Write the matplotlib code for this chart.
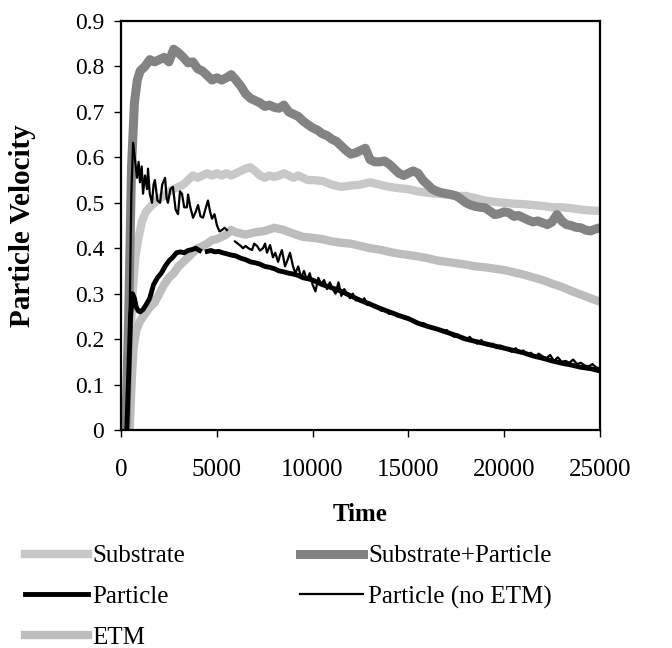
import numpy as np
import matplotlib
matplotlib.use("Agg")
import matplotlib.pyplot as plt

nan = np.nan

# ---------------- data ----------------
t_sub = [300, 450, 600, 750, 900, 1100, 1300, 1500, 1750, 2000, 2250, 2500, 2750, 3000, 3250, 3500,
         3750, 4000, 4250, 4500, 4750, 5000, 5250, 5500, 5750, 6000, 6250, 6500, 6750, 7000, 7250,
         7500, 7750, 8000, 8250, 8500, 8750, 9000, 9250, 9500, 9750, 10000, 10500, 11000, 11500,
         12000, 12500, 13000, 13500, 14000, 14500, 15000, 15500, 16000, 16500, 17000, 17500, 18000,
         18500, 19000, 19500, 20000, 20500, 21000, 21500, 22000, 22500, 23000, 23500, 24000, 24500, 25000]
v_sub = [0.0, 0.15, 0.30, 0.38, 0.42, 0.46, 0.48, 0.49, 0.50, 0.51, 0.515, 0.525, 0.53, 0.535, 0.54, 0.55,
         0.56, 0.555, 0.56, 0.565, 0.56, 0.565, 0.56, 0.565, 0.56, 0.565, 0.57, 0.575, 0.578, 0.57, 0.56,
         0.555, 0.56, 0.557, 0.56, 0.565, 0.56, 0.555, 0.56, 0.555, 0.55, 0.55, 0.548, 0.54, 0.535,
         0.538, 0.54, 0.545, 0.54, 0.535, 0.532, 0.53, 0.525, 0.522, 0.52, 0.518, 0.515, 0.515,
         0.51, 0.505, 0.502, 0.50, 0.498, 0.497, 0.495, 0.493, 0.49, 0.49, 0.488, 0.485, 0.483, 0.482]

t_sp = [250, 400, 550, 700, 850, 1000, 1250, 1500, 1750, 2000, 2250, 2500, 2750, 3000, 3250, 3500,
        3750, 4000, 4250, 4500, 4750, 5000, 5250, 5500, 5750, 6000, 6250, 6500, 6750, 7000, 7250,
        7500, 7750, 8000, 8250, 8500, 8750, 9000, 9250, 9500, 9750, 10000, 10250, 10500, 10750,
        11000, 11250, 11500, 11750, 12000, 12250, 12500, 12750, 13000, 13250, 13500, 13750, 14000,
        14250, 14500, 14750, 15000, 15250, 15500, 15750, 16000, 16250, 16500, 16750, 17000, 17250,
        17500, 17750, 18000, 18250, 18500, 18750, 19000, 19250, 19500, 19750, 20000, 20250, 20500,
        20750, 21000, 21250, 21500, 21750, 22000, 22250, 22500, 22750, 23000, 23250, 23500, 23750,
        24000, 24250, 24500, 24750, 25000]
v_sp = [0.0, 0.25, 0.58, 0.72, 0.77, 0.79, 0.80, 0.815, 0.81, 0.815, 0.82, 0.81, 0.838, 0.83, 0.82, 0.808,
        0.81, 0.795, 0.79, 0.78, 0.77, 0.775, 0.77, 0.775, 0.782, 0.77, 0.757, 0.74, 0.73, 0.725, 0.72,
        0.712, 0.715, 0.71, 0.708, 0.715, 0.70, 0.695, 0.69, 0.68, 0.672, 0.665, 0.66, 0.652, 0.648,
        0.64, 0.635, 0.625, 0.615, 0.607, 0.61, 0.615, 0.62, 0.595, 0.59, 0.59, 0.592, 0.585,
        0.575, 0.565, 0.56, 0.565, 0.57, 0.565, 0.55, 0.54, 0.53, 0.525, 0.522, 0.52, 0.518,
        0.515, 0.508, 0.50, 0.495, 0.492, 0.49, 0.489, 0.482, 0.474, 0.476, 0.48, 0.478, 0.47,
        0.472, 0.467, 0.462, 0.458, 0.46, 0.456, 0.452, 0.458, 0.474, 0.46, 0.452, 0.45, 0.446,
        0.445, 0.44, 0.438, 0.442, 0.445]

t_par = [300, 400, 500, 600, 700, 800, 900, 1000, 1150, 1300, 1500, 1700, 1900, 2100, 2300, 2500,
         2700, 2900, 3100, 3300, 3500, 3700, 3900, 4100, 4300, 4500, 4700, 4900, 5100, 5300, 5500,
         5750, 6000, 6250, 6500, 6750, 7000, 7250, 7500, 7750, 8000, 8250, 8500, 8750, 9000, 9250,
         9500, 9750, 10000, 10500, 11000, 11500, 12000, 12500, 13000, 13500, 14000, 14500, 15000,
         15500, 16000, 16500, 17000, 17500, 18000, 18500, 19000, 19500, 20000, 20500, 21000, 21500,
         22000, 22500, 23000, 23500, 24000, 24500, 25000]
v_par = [0.0, 0.12, 0.25, 0.30, 0.29, 0.27, 0.262, 0.26, 0.265, 0.275, 0.29, 0.32, 0.335, 0.345, 0.36, 0.372,
         0.38, 0.39, 0.392, 0.39, 0.395, 0.397, 0.40, 0.395, nan, 0.393, 0.395, 0.392, 0.393, 0.39, 0.388,
         0.385, 0.383, 0.378, 0.375, 0.37, 0.368, 0.365, 0.36, 0.358, 0.355, 0.35, 0.348, 0.345, 0.343, 0.34,
         0.335, 0.333, 0.33, 0.32, 0.313, 0.305, 0.295, 0.285, 0.277, 0.268, 0.26, 0.252, 0.245,
         0.235, 0.228, 0.222, 0.215, 0.208, 0.20, 0.195, 0.19, 0.185, 0.18, 0.175, 0.17, 0.163,
         0.158, 0.152, 0.147, 0.143, 0.138, 0.135, 0.13]

t_ne = [350, 450, 540, 630, 720, 835, 920, 990, 1080, 1150, 1250, 1360, 1410, 1500, 1620, 1700, 1770,
        1900, 2040, 2150, 2300, 2380, 2450, 2580, 2710, 2850, 2975, 3080, 3180, 3300, 3440, 3500, 3620,
        3760, 3900, 4020, 4150, 4280, 4400, 4540, 4650, 4750, 4880, 5010, 5140, 5270, 5400, 5530, 5750,
        5950, 6100, 6250, 6370, 6500, 6650, 6840, 6950, 7100, 7250, 7410, 7520, 7620, 7780, 7930, 8050,
        8200, 8300, 8400, 8560, 8700, 8820, 8980, 9100, 9250, 9400, 9550, 9700, 9850, 10000, 10150,
        10300, 10450, 10600, 10750, 10900, 11050, 11200, 11350, 11500, 11650, 11800, 11950, 12100,
        12250, 12400, 12550, 12700, 12850, 13000, 13200, 13400, 13600, 13800, 14000, 14200, 14400,
        14600, 14800, 15000, 15200, 15400, 15600, 15800, 16000, 16200, 16400, 16600, 16800, 17000,
        17200, 17400, 17600, 17800, 18000, 18200, 18400, 18600, 18800, 19000, 19200, 19400, 19600,
        19800, 20000, 20200, 20400, 20600, 20800, 21000, 21200, 21400, 21600, 21800, 22000, 22200,
        22400, 22600, 22800, 23000, 23200, 23400, 23600, 23800, 24000, 24200, 24400, 24600, 24800, 25000]
v_ne = [0.0, 0.25, 0.52, 0.632, 0.60, 0.555, 0.59, 0.545, 0.58, 0.52, 0.56, 0.53, 0.575, 0.52, 0.50, 0.54, 0.55,
        0.505, 0.50, 0.54, 0.555, 0.51, 0.50, 0.53, 0.535, 0.485, 0.475, 0.525, 0.52, 0.49, 0.49, 0.518, 0.49,
        0.467, 0.48, 0.495, 0.47, 0.467, 0.485, 0.505, 0.48, 0.465, 0.475, 0.45, 0.437, 0.44, 0.445, 0.44, nan,
        0.415, 0.41, 0.405, 0.40, 0.405, 0.40, 0.396, 0.41, 0.405, 0.395, 0.40, 0.41, 0.39, 0.407, 0.38, 0.39,
        0.37, 0.385, 0.396, 0.36, 0.375, 0.39, 0.36, 0.345, 0.36, 0.335, 0.35, 0.33, 0.345, 0.32, 0.305,
        0.335, 0.32, 0.33, 0.31, 0.325, 0.31, 0.30, 0.325, 0.295, 0.31, 0.30, 0.29, 0.30,
        0.285, 0.29, 0.282, 0.29, 0.275, 0.28, 0.27, 0.268, 0.262, 0.265, 0.255, 0.26, 0.25,
        0.252, 0.245, 0.248, 0.24, 0.238, 0.232, 0.235, 0.228, 0.225, 0.222, 0.22, 0.215, 0.22,
        0.21, 0.205, 0.21, 0.20, 0.198, 0.205, 0.195, 0.19, 0.198, 0.188, 0.185, 0.19, 0.18,
        0.186, 0.182, 0.176, 0.172, 0.18, 0.17, 0.175, 0.165, 0.17, 0.16, 0.168, 0.162, 0.158,
        0.165, 0.152, 0.16, 0.15, 0.152, 0.148, 0.155, 0.145, 0.148, 0.142, 0.14, 0.145, 0.138, 0.135]

t_etm = [450, 550, 650, 800, 1000, 1250, 1500, 1750, 2000, 2250, 2500, 2750, 3000, 3250, 3500, 3750,
         4000, 4250, 4500, 4750, 5000, 5250, 5500, 5750, 6000, 6500, 7000, 7500, 8000, 8500, 9000,
         9500, 10000, 10500, 11000, 11500, 12000, 12500, 13000, 13500, 14000, 14500, 15000, 15500,
         16000, 16500, 17000, 17500, 18000, 18500, 19000, 19500, 20000, 20500, 21000, 21500, 22000,
         22500, 23000, 23500, 24000, 24500, 25000]
v_etm = [0.0, 0.10, 0.18, 0.22, 0.24, 0.255, 0.27, 0.28, 0.30, 0.32, 0.335, 0.345, 0.36, 0.37, 0.38, 0.39,
         0.40, 0.405, 0.41, 0.418, 0.42, 0.425, 0.43, 0.44, 0.435, 0.43, 0.435, 0.438, 0.445, 0.44, 0.432,
         0.425, 0.423, 0.42, 0.415, 0.412, 0.41, 0.405, 0.40, 0.397, 0.392, 0.388, 0.385, 0.382,
         0.378, 0.373, 0.37, 0.367, 0.364, 0.36, 0.358, 0.355, 0.352, 0.347, 0.342, 0.336, 0.33,
         0.322, 0.315, 0.306, 0.298, 0.29, 0.282]

x_ticks = [0, 5000, 10000, 15000, 20000, 25000]
y_ticks = [0, 0.1, 0.2, 0.3, 0.4, 0.5, 0.6, 0.7, 0.8, 0.9]
y_tick_labels = ["0", "0.1", "0.2", "0.3", "0.4", "0.5", "0.6", "0.7", "0.8", "0.9"]

# ---------------- plot ----------------
plt.rcParams['font.family'] = ['Liberation Serif', 'DejaVu Serif']
FS = 18

fig = plt.figure(figsize=(6.72, 6.48), dpi=100)
ax = fig.add_axes([121/672, 1-430/648, 479/672, 409/648])

l_sub, = ax.plot(t_sub, v_sub, color='#c8c8c8', lw=6.0, solid_joinstyle='round', label='Substrate')
l_etm, = ax.plot(t_etm, v_etm, color='#bdbdbd', lw=6.0, solid_joinstyle='round', label='ETM')
l_sp, = ax.plot(t_sp, v_sp, color='#838383', lw=6.5, solid_joinstyle='round', label='Substrate+Particle')
l_ne, = ax.plot(t_ne, v_ne, color='black', lw=1.6, label='Particle (no ETM)')
l_par, = ax.plot(t_par, v_par, color='black', lw=3.5, label='Particle')

ax.set_xlim(0, 25000)
ax.set_ylim(0, 0.9)
ax.set_xticks(x_ticks)
ax.set_xticklabels([str(v) for v in x_ticks])
ax.set_yticks(y_ticks)
ax.set_yticklabels(y_tick_labels)
ax.tick_params(axis='both', direction='out', length=5, width=1)
ax.tick_params(axis='x', pad=16, labelsize=FS)
ax.tick_params(axis='y', pad=7, labelsize=17)
for s in ax.spines.values():
    s.set_linewidth(1.6)
    s.set_color('black')

ax.set_xlabel('Time', fontsize=FS, fontweight='bold', labelpad=16)
ax.set_ylabel('Particle Velocity', fontsize=21, fontweight='bold', va='center')
ax.yaxis.set_label_coords(-98/479, 0.5)

fig.legend(handles=[l_sub, l_par, l_etm, l_sp, l_ne],
           labels=['Substrate', 'Particle', 'ETM', 'Substrate+Particle', 'Particle (no ETM)'],
           ncol=2, loc='upper left', bbox_to_anchor=(25/672, 1-545/648),
           frameon=False, fontsize=FS, handlelength=2.5, handletextpad=0.2,
           columnspacing=4.6, labelspacing=0.72, borderpad=0, borderaxespad=0)

fig.savefig('out.png', dpi=100)
